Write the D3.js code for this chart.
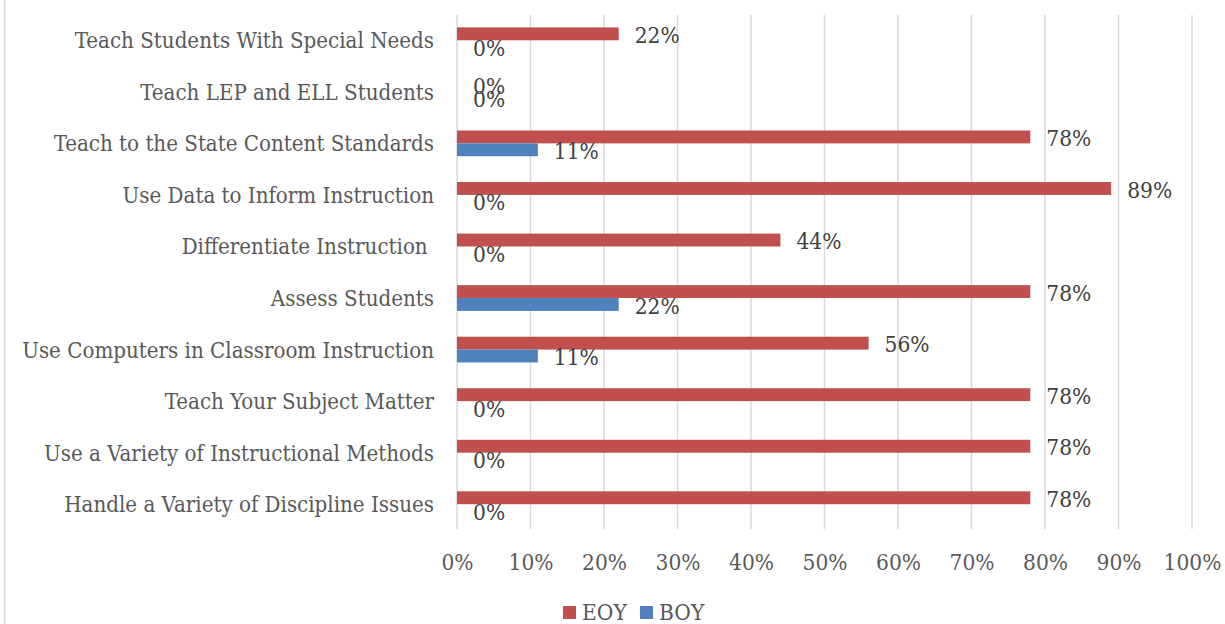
<!DOCTYPE html>
<html><head><meta charset="utf-8">
<script src="https://cdn.jsdelivr.net/npm/d3@7"></script>
<style>body{margin:0;background:#fff}svg{display:block}</style>
</head><body>
<svg id="c" width="1225" height="624"></svg>
<script>
const categories = ["Teach Students With Special Needs","Teach LEP and ELL Students","Teach to the State Content Standards","Use Data to Inform Instruction","Differentiate Instruction ","Assess Students","Use Computers in Classroom Instruction","Teach Your Subject Matter","Use a Variety of Instructional Methods","Handle a Variety of Discipline Issues"];
const eoy = [22,0,78,89,44,78,56,78,78,78];
const boy = [0,0,11,0,0,22,11,0,0,0];
const seriesNames = ["EOY","BOY"];
const ticks = [0,10,20,30,40,50,60,70,80,90,100];

const colors = {EOY:"#C0504D", BOY:"#4F81BD"};
const font = "'DejaVu Serif Condensed', 'DejaVu Serif', serif";
const svg = d3.select("#c");

function fitSize(str, target){
  const t = svg.append("text").attr("font-family",font).attr("font-size",20).style("font-stretch","condensed").text(str);
  const w = t.node().getComputedTextLength(); t.remove();
  return 20*target/w;
}
const catSize = fitSize("Use Computers in Classroom Instruction", 412);
const numSize = fitSize("80%", 45);

svg.append("rect").attr("x",4.5).attr("y",-2).attr("width",1240).attr("height",640)
  .attr("fill","none").attr("stroke","#d9d9d9").attr("stroke-width",1.5);

const x = d3.scaleLinear().domain([0,100]).range([457,1192]);
const y = d3.scaleBand().domain(categories).range([14.5,530]).paddingInner(0.5).paddingOuter(0.25);
const sub = d3.scaleBand().domain(seriesNames).range([0,y.bandwidth()]);

svg.append("g").selectAll("line").data(ticks).join("line")
  .attr("x1",d=>x(d)).attr("x2",d=>x(d)).attr("y1",15).attr("y2",529)
  .attr("stroke","#d9d9d9").attr("stroke-width",1.5);

const xa = svg.append("g").attr("transform","translate(0,570)")
  .call(d3.axisBottom(x).tickValues(ticks).tickFormat(d=>d+"%").tickSize(0).tickPadding(0));
xa.select(".domain").remove();
xa.selectAll("text").attr("font-family",font).style("font-stretch","condensed").attr("font-size",numSize).attr("fill","#595959").attr("dy",0);

const ya = svg.append("g").attr("transform","translate(434,0)")
  .call(d3.axisLeft(y).tickSize(0).tickPadding(0));
ya.select(".domain").remove();
ya.selectAll("text").attr("font-family",font).style("font-stretch","condensed").attr("font-size",catSize).attr("fill","#595959")
  .attr("dy","0.36em").style("white-space","pre").attr("xml:space","preserve");

const data = [];
categories.forEach((c,i)=>{ data.push({c,s:"EOY",v:eoy[i]}); data.push({c,s:"BOY",v:boy[i]}); });

svg.append("g").selectAll("rect").data(data).join("rect")
  .attr("x",x(0)).attr("y",d=>y(d.c)+sub(d.s)).attr("width",d=>x(d.v)-x(0))
  .attr("height",sub.bandwidth()).attr("fill",d=>colors[d.s]);

svg.append("g").selectAll("text").data(data).join("text")
  .attr("x",d=>x(d.v)+16).attr("y",d=>y(d.c)+sub(d.s)+sub.bandwidth()/2+1)
  .attr("dy","0.36em").attr("font-family",font).style("font-stretch","condensed").attr("font-size",numSize).attr("fill","#404040")
  .text(d=>d.v+"%");

const lg = svg.append("g");
const litems = [{n:"EOY",x:563},{n:"BOY",x:640}];
lg.selectAll("rect").data(litems).join("rect").attr("x",d=>d.x).attr("y",606).attr("width",13).attr("height",13)
  .attr("fill",d=>colors[d.n]);
lg.selectAll("text").data(litems).join("text").attr("x",d=>d.x+19).attr("y",612).attr("dy","0.36em")
  .attr("font-family",font).style("font-stretch","condensed").attr("font-size",numSize).attr("fill","#595959").text(d=>d.n);
</script>
</body></html>
